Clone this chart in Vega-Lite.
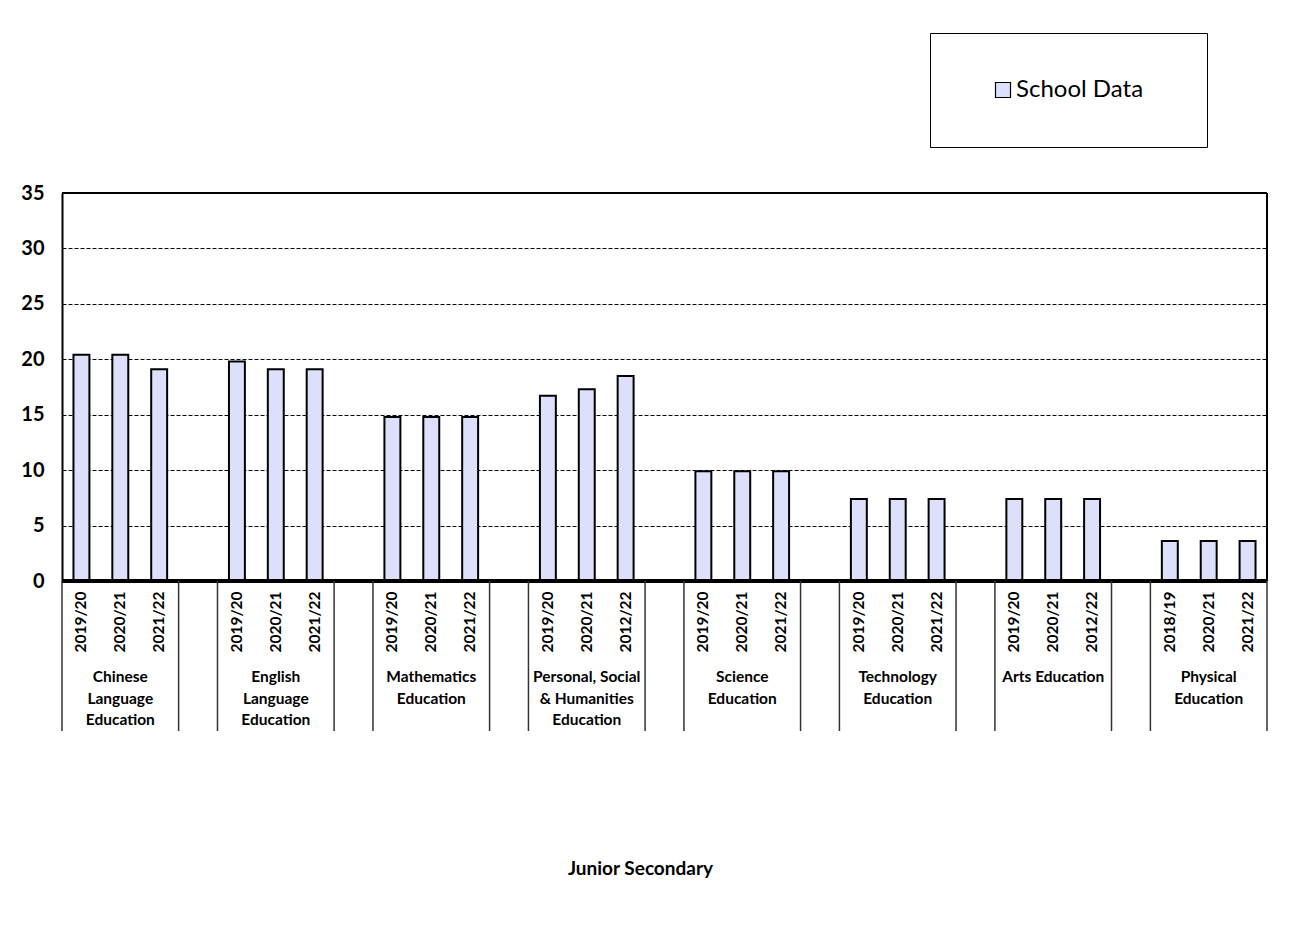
{
  "$schema": "https://vega.github.io/schema/vega-lite/v6.json",
  "background": "white",
  "padding": {"left": 20, "top": 32, "right": 10, "bottom": 10},
  "spacing": 0,
  "bounds": "flush",
  "config": {
    "font": "Lato",
    "view": {"stroke": null},
    "concat": {"spacing": 0}
  },
  "datasets": {
    "rows": [
      {"slot": "CLE 2019/20", "group": "Chinese Language Education", "label": "Chinese\nLanguage\nEducation", "year": "2019/20", "value": 20.4},
      {"slot": "CLE 2020/21", "group": "Chinese Language Education", "label": "Chinese\nLanguage\nEducation", "year": "2020/21", "value": 20.4},
      {"slot": "CLE 2021/22", "group": "Chinese Language Education", "label": "Chinese\nLanguage\nEducation", "year": "2021/22", "value": 19.1},
      {"slot": "ELE 2019/20", "group": "English Language Education", "label": "English\nLanguage\nEducation", "year": "2019/20", "value": 19.8},
      {"slot": "ELE 2020/21", "group": "English Language Education", "label": "English\nLanguage\nEducation", "year": "2020/21", "value": 19.1},
      {"slot": "ELE 2021/22", "group": "English Language Education", "label": "English\nLanguage\nEducation", "year": "2021/22", "value": 19.1},
      {"slot": "ME 2019/20", "group": "Mathematics Education", "label": "Mathematics\nEducation", "year": "2019/20", "value": 14.8},
      {"slot": "ME 2020/21", "group": "Mathematics Education", "label": "Mathematics\nEducation", "year": "2020/21", "value": 14.8},
      {"slot": "ME 2021/22", "group": "Mathematics Education", "label": "Mathematics\nEducation", "year": "2021/22", "value": 14.8},
      {"slot": "PSHE 2019/20", "group": "Personal, Social & Humanities Education", "label": "Personal, Social\n& Humanities\nEducation", "year": "2019/20", "value": 16.7},
      {"slot": "PSHE 2020/21", "group": "Personal, Social & Humanities Education", "label": "Personal, Social\n& Humanities\nEducation", "year": "2020/21", "value": 17.3},
      {"slot": "PSHE 2012/22", "group": "Personal, Social & Humanities Education", "label": "Personal, Social\n& Humanities\nEducation", "year": "2012/22", "value": 18.5},
      {"slot": "SE 2019/20", "group": "Science Education", "label": "Science\nEducation", "year": "2019/20", "value": 9.9},
      {"slot": "SE 2020/21", "group": "Science Education", "label": "Science\nEducation", "year": "2020/21", "value": 9.9},
      {"slot": "SE 2021/22", "group": "Science Education", "label": "Science\nEducation", "year": "2021/22", "value": 9.9},
      {"slot": "TE 2019/20", "group": "Technology Education", "label": "Technology\nEducation", "year": "2019/20", "value": 7.4},
      {"slot": "TE 2020/21", "group": "Technology Education", "label": "Technology\nEducation", "year": "2020/21", "value": 7.4},
      {"slot": "TE 2021/22", "group": "Technology Education", "label": "Technology\nEducation", "year": "2021/22", "value": 7.4},
      {"slot": "AE 2019/20", "group": "Arts Education", "label": "Arts Education", "year": "2019/20", "value": 7.4},
      {"slot": "AE 2020/21", "group": "Arts Education", "label": "Arts Education", "year": "2020/21", "value": 7.4},
      {"slot": "AE 2012/22", "group": "Arts Education", "label": "Arts Education", "year": "2012/22", "value": 7.4},
      {"slot": "PE 2018/19", "group": "Physical Education", "label": "Physical\nEducation", "year": "2018/19", "value": 3.6},
      {"slot": "PE 2020/21", "group": "Physical Education", "label": "Physical\nEducation", "year": "2020/21", "value": 3.6},
      {"slot": "PE 2021/22", "group": "Physical Education", "label": "Physical\nEducation", "year": "2021/22", "value": 3.6}
    ]
  },
  "vconcat": [
    {
      "width": 1205,
      "height": 388,
      "data": {"name": "rows"},
      "layer": [
        {
          "mark": {"type": "bar", "width": {"band": 0.41}, "stroke": "black", "strokeWidth": 2},
          "encoding": {
            "x": {
              "field": "slot", "type": "nominal", "sort": null,
              "scale": {"domain": ["CLE 2019/20","CLE 2020/21","CLE 2021/22","g1","ELE 2019/20","ELE 2020/21","ELE 2021/22","g2","ME 2019/20","ME 2020/21","ME 2021/22","g3","PSHE 2019/20","PSHE 2020/21","PSHE 2012/22","g4","SE 2019/20","SE 2020/21","SE 2021/22","g5","TE 2019/20","TE 2020/21","TE 2021/22","g6","AE 2019/20","AE 2020/21","AE 2012/22","g7","PE 2018/19","PE 2020/21","PE 2021/22"], "paddingInner": 0, "paddingOuter": 0},
              "axis": null
            },
            "y": {
              "field": "value", "type": "quantitative",
              "scale": {"domain": [0, 35], "nice": false},
              "axis": {"values": [0,5,10,15,20,25,30,35], "title": null, "ticks": false, "labelPadding": 18, "labelFont": "Lato", "labelFontWeight": "bold", "labelFontSize": 20, "labelColor": "black", "domainColor": "black", "domainWidth": 2, "gridColor": "black", "gridDash": [4, 2], "gridWidth": 1, "gridOpacity": 1}
            },
            "fill": {
              "datum": "School Data",
              "scale": {"range": ["#dde0fb"]},
              "legend": {
                "orient": "none", "legendX": 868, "legendY": -160,
                "title": " ", "titleOrient": "left", "titlePadding": 16,
                "padding": 45, "strokeColor": "black", "fillColor": "white",
                "symbolType": "square", "symbolSize": 225, "symbolStrokeColor": "black", "symbolStrokeWidth": 1.2,
                "labelFont": "Lato", "labelFontSize": 24, "labelColor": "black", "labelOffset": 1,
                "labelExpr": "'School Data\u2800'"
              }
            }
          }
        },
        {
          "mark": {"type": "rule", "stroke": "black", "strokeWidth": 1.5},
          "encoding": {"y": {"datum": 35}}
        },
        {
          "mark": {"type": "rule", "stroke": "black", "strokeWidth": 2.5},
          "encoding": {"y": {"datum": 0}}
        },
        {
          "mark": {"type": "rule", "stroke": "black", "strokeWidth": 1.5},
          "encoding": {"x": {"datum": "PE 2021/22", "bandPosition": 1}}
        }
      ]
    },
    {
      "width": 1205,
      "height": 82,
      "data": {"name": "rows"},
      "transform": [{"window": [{"op": "row_number", "as": "n"}], "groupby": ["group"]}],
      "layer": [
        {
          "transform": [{"filter": "datum.n == 1"}],
          "mark": {"type": "rule", "stroke": "#333333", "strokeWidth": 1.5},
          "encoding": {"x": {"field": "slot", "type": "nominal", "bandPosition": 0, "axis": null}}
        },
        {
          "transform": [{"filter": "datum.n == 3"}],
          "mark": {"type": "rule", "stroke": "#333333", "strokeWidth": 1.5},
          "encoding": {"x": {"field": "slot", "type": "nominal", "bandPosition": 1, "axis": null}}
        },
        {
          "mark": {"type": "text", "angle": 270, "align": "center", "baseline": "middle", "font": "Lato", "fontWeight": "bold", "fontSize": 15.5, "color": "black"},
          "encoding": {
            "x": {"field": "slot", "type": "nominal", "axis": null},
            "text": {"field": "year"}
          }
        }
      ]
    },
    {
      "width": 1205,
      "height": 68,
      "data": {"name": "rows"},
      "transform": [{"window": [{"op": "row_number", "as": "n"}], "groupby": ["group"]}],
      "layer": [
        {
          "transform": [{"filter": "datum.n == 1"}],
          "mark": {"type": "rule", "stroke": "#333333", "strokeWidth": 1.5},
          "encoding": {"x": {"field": "slot", "type": "nominal", "bandPosition": 0, "axis": {"labels": false, "ticks": false, "domain": false, "title": "Junior Secondary", "titleFont": "Lato", "titleFontWeight": "bold", "titleFontSize": 19, "titleColor": "black", "titlePadding": 128, "titleX": 578}}}
        },
        {
          "transform": [{"filter": "datum.n == 3"}],
          "mark": {"type": "rule", "stroke": "#333333", "strokeWidth": 1.5},
          "encoding": {"x": {"field": "slot", "type": "nominal", "bandPosition": 1}}
        },
        {
          "transform": [{"filter": "datum.n == 2"}],
          "mark": {"type": "text", "align": "center", "baseline": "top", "dy": -27, "lineBreak": "\n", "lineHeight": 21.5, "font": "Lato", "fontWeight": "bold", "fontSize": 15.5, "color": "black"},
          "encoding": {
            "x": {"field": "slot", "type": "nominal"},
            "text": {"field": "label"}
          }
        }
      ]
    }
  ],
  "resolve": {"scale": {"x": "shared"}}
}
